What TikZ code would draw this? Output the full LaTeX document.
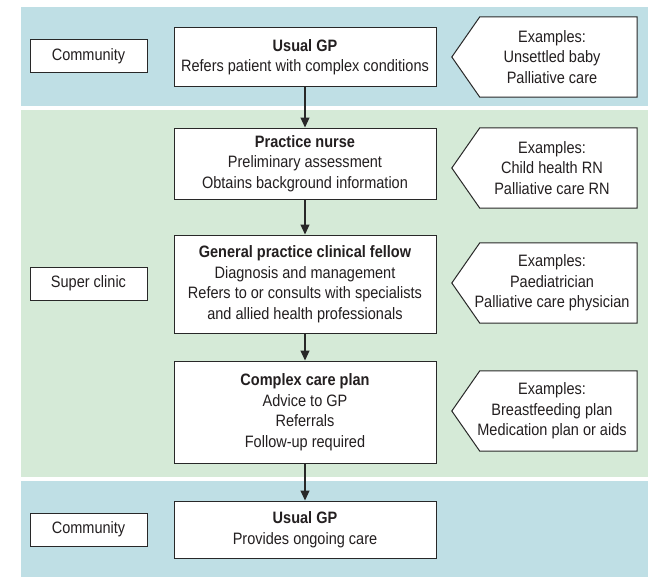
\documentclass[tikz,border=0pt]{standalone}
\usepackage{fontspec}
\setmainfont[FakeStretch=0.88]{Liberation Sans}
\usetikzlibrary{arrows.meta}
\definecolor{bandblue}{RGB}{191,223,229}
\definecolor{bandgreen}{RGB}{213,234,215}
\definecolor{edgec}{RGB}{40,40,40}
\definecolor{txtc}{RGB}{35,31,32}
\begin{document}
\begin{tikzpicture}[x=1pt,y=-1pt,
  txt/.style={font=\fontsize{16.5}{20.5}\selectfont, text=txtc, align=center},
  flowbox/.style={txt, draw=edgec, line width=1pt, fill=white, minimum width=262pt, inner sep=0pt},
  sidebox/.style={txt, draw=edgec, line width=1pt, fill=white, minimum width=117pt, minimum height=33pt, inner sep=0pt},
  exframe/.style={minimum width=157pt, minimum height=80pt, inner sep=0pt},
  expath/.style={draw=edgec, line width=1pt, fill=white},
  arr/.style={draw=edgec, line width=1.2pt, -{Triangle[width=9pt,length=10pt]}}
]
\useasboundingbox (0,0) rectangle (664,578);
% bands
\fill[bandblue] (21,7) rectangle (648,106);
\fill[bandgreen] (21,110) rectangle (648,477);
\fill[bandblue] (21,481) rectangle (648,577);

% side labels
\node[sidebox] (comm1) at (88.5,56.5) {Community};
\node[sidebox] (super) at (88.5,283.5) {Super clinic};
\node[sidebox] (comm2) at (88.5,529.5) {Community};

% main flow
\node[flowbox, minimum height=58pt] (gp1) at (305,57)
  {\textbf{Usual GP}\\Refers patient with complex conditions};
\node[flowbox, minimum height=71pt] (pn) at (305,163.5)
  {\textbf{Practice nurse}\\Preliminary assessment\\Obtains background information};
\node[flowbox, minimum height=98pt] (fel) at (305,284)
  {\textbf{General practice clinical fellow}\\Diagnosis and management\\Refers to or consults with specialists\\and allied health professionals};
\node[flowbox, minimum height=102pt] (ccp) at (305,412)
  {\textbf{Complex care plan}\\Advice to GP\\Referrals\\Follow-up required};
\node[flowbox, minimum height=57pt] (gp2) at (305,529.5)
  {\textbf{Usual GP}\\Provides ongoing care};

\draw[arr] (gp1) -- (pn);
\draw[arr] (pn) -- (fel);
\draw[arr] (fel) -- (ccp);
\draw[arr] (ccp) -- (gp2);

% examples
\foreach \n/\yy in {ex1/57, ex2/168, ex3/283, ex4/411}{
  \node[exframe] (\n) at (558.5,\yy) {};
  \path[expath] (\n.north east) -- (\n.south east) -- (\n.south west)
     -- ([xshift=-28pt]\n.west) -- (\n.north west) -- cycle;
}
\node[txt] (ex1t) at (552,57) {Examples:\\Unsettled baby\\Palliative care};
\node[txt] (ex2t) at (552,168) {Examples:\\Child health RN\\Palliative care RN};
\node[txt] (ex3t) at (552,283) {Examples:\\Paediatrician\\Palliative care physician};
\node[txt] (ex4t) at (552,411) {Examples:\\Breastfeeding plan\\Medication plan or aids};
\end{tikzpicture}
\end{document}
